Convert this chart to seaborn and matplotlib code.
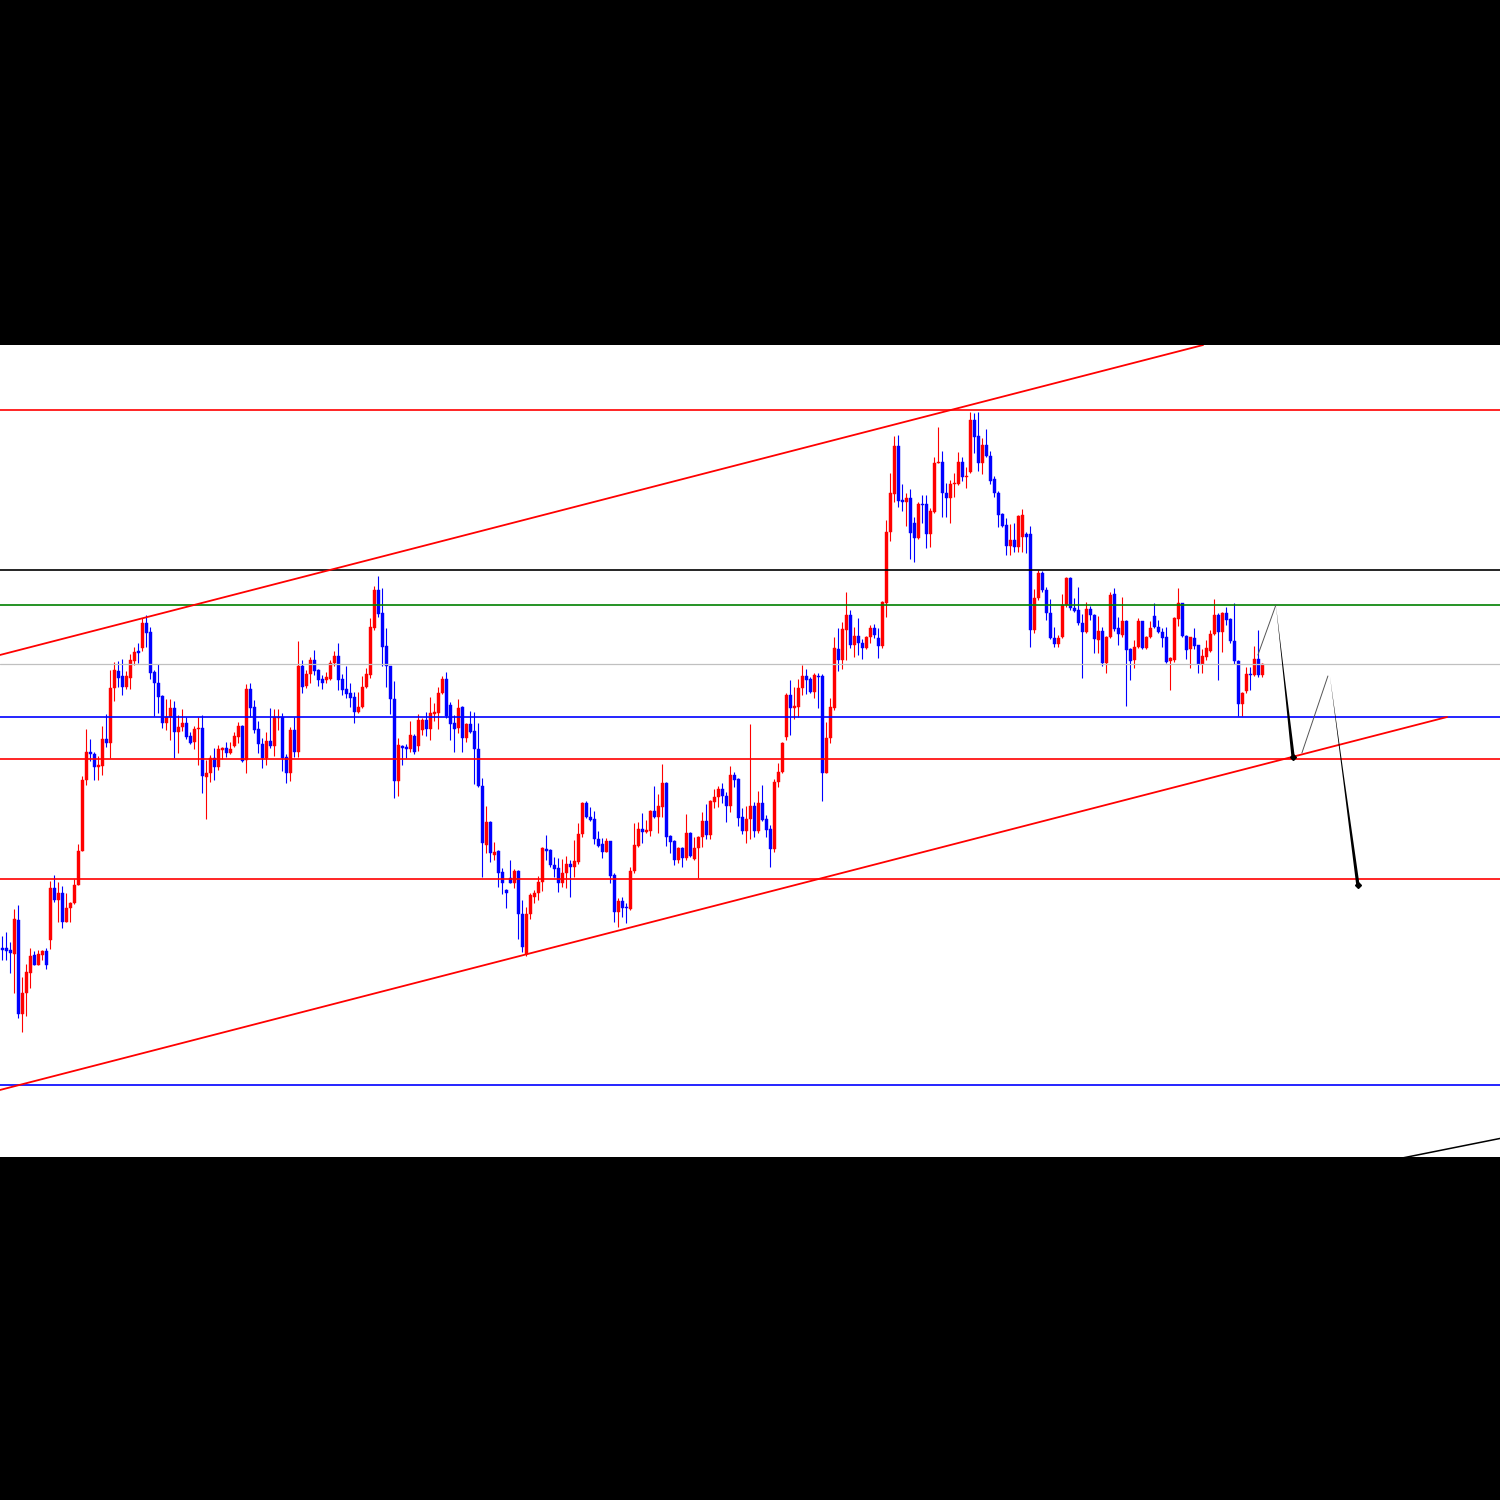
import numpy as np
import matplotlib
matplotlib.use("Agg")
import matplotlib.pyplot as plt
import seaborn as sns

sns.set_theme(style="white")

# OHLC (price points, one candle per bar)
opens = [252, 252, 250, 246, 280, 186, 207, 227, 245, 235,
         245, 249, 260, 312, 300, 307, 278, 292, 297, 315,
         349, 420, 448, 446, 433, 434, 461, 457, 512, 529,
         524, 513, 522, 539, 549, 552, 577, 568, 528, 517,
         504, 477, 483, 492, 468, 473, 477, 464, 458, 471,
         472, 423, 427, 442, 433, 450, 452, 447, 454, 463,
         474, 440, 511, 493, 471, 456, 442, 459, 454, 482,
         483, 443, 427, 470, 448, 534, 514, 526, 540, 530,
         521, 520, 521, 537, 544, 521, 511, 507, 503, 488,
         493, 513, 525, 572, 610, 587, 554, 534, 501, 419,
         454, 453, 451, 464, 454, 470, 480, 471, 486, 487,
         507, 521, 495, 477, 472, 493, 462, 476, 469, 451,
         414, 355, 378, 345, 349, 328, 310, 322, 317, 329,
         286, 246, 286, 303, 307, 318, 351, 350, 335, 332,
         317, 327, 336, 333, 338, 366, 397, 383, 381, 361,
         356, 348, 359, 325, 288, 299, 293, 291, 329, 354,
         371, 368, 369, 389, 383, 393, 417, 364, 359, 340,
         352, 342, 367, 341, 352, 363, 379, 365, 398, 403,
         411, 404, 394, 425, 421, 383, 369, 381, 394, 369,
         397, 381, 371, 351, 418, 428, 463, 505, 492, 493,
         512, 524, 521, 508, 524, 524, 427, 462, 492, 551,
         540, 570, 585, 555, 564, 557, 552, 563, 572, 562,
         554, 597, 668, 706, 754, 700, 698, 702, 677, 662,
         696, 696, 666, 688, 737, 738, 707, 702, 716, 716,
         738, 723, 728, 780, 764, 737, 755, 744, 721, 707,
         686, 675, 654, 660, 653, 663, 666, 666, 570, 602,
         627, 610, 587, 562, 556, 563, 595, 622, 592, 590,
         577, 568, 591, 585, 560, 569, 537, 563, 606, 572,
         565, 579, 551, 540, 553, 579, 552, 563, 584, 573,
         568, 563, 539, 540, 581, 597, 564, 551, 562, 555,
         536, 543, 549, 566, 585, 568, 587, 581, 559, 539,
         496, 509, 526, 525, 541, 525]
highs = [264, 268, 258, 291, 295, 223, 236, 252, 249, 250,
         250, 252, 319, 325, 318, 314, 307, 298, 321, 356,
         424, 471, 461, 448, 444, 474, 486, 530, 538, 539,
         541, 529, 546, 553, 557, 582, 585, 573, 530, 536,
         505, 501, 501, 499, 485, 491, 483, 468, 474, 483,
         485, 440, 445, 452, 455, 453, 458, 458, 468, 478,
         475, 516, 517, 500, 479, 462, 468, 492, 491, 491,
         487, 446, 473, 483, 559, 540, 530, 543, 550, 531,
         525, 528, 540, 549, 557, 526, 534, 517, 508, 508,
         524, 532, 582, 614, 624, 612, 572, 534, 519, 462,
         455, 456, 479, 466, 486, 482, 488, 503, 497, 513,
         524, 528, 498, 485, 501, 494, 477, 489, 488, 477,
         422, 394, 379, 358, 350, 332, 311, 340, 331, 330,
         300, 293, 307, 310, 324, 353, 365, 351, 343, 342,
         341, 344, 340, 360, 377, 398, 399, 393, 389, 369,
         362, 362, 359, 327, 302, 303, 297, 333, 377, 378,
         387, 380, 390, 414, 406, 436, 418, 365, 360, 353,
         353, 386, 368, 363, 364, 388, 396, 400, 411, 414,
         417, 408, 434, 428, 422, 392, 394, 476, 398, 409,
         415, 385, 375, 421, 437, 458, 507, 520, 513, 521,
         535, 531, 523, 527, 527, 526, 478, 502, 563, 572,
         578, 608, 590, 573, 582, 561, 564, 575, 576, 572,
         599, 680, 727, 764, 765, 716, 707, 711, 683, 698,
         705, 705, 692, 743, 773, 749, 717, 720, 727, 748,
         743, 733, 788, 787, 788, 762, 771, 749, 724, 709,
         687, 682, 676, 677, 685, 691, 668, 674, 611, 630,
         629, 613, 601, 573, 565, 606, 623, 623, 602, 613,
         586, 598, 594, 586, 584, 573, 564, 608, 612, 583,
         603, 580, 552, 560, 582, 579, 564, 579, 597, 580,
         572, 573, 543, 583, 612, 597, 565, 563, 572, 555,
         551, 560, 570, 601, 587, 588, 593, 582, 597, 540,
         508, 533, 533, 554, 570, 537]
lows = [240, 240, 227, 207, 182, 168, 184, 212, 235, 235,
        240, 231, 251, 298, 278, 272, 278, 278, 296, 315,
        349, 415, 439, 420, 420, 425, 453, 442, 499, 513,
        505, 511, 511, 535, 537, 549, 553, 521, 484, 487,
        472, 470, 460, 442, 447, 469, 461, 456, 451, 435,
        407, 381, 418, 420, 430, 441, 443, 446, 453, 457,
        438, 427, 483, 467, 447, 432, 435, 452, 444, 470,
        429, 417, 419, 443, 443, 507, 512, 517, 525, 514,
        511, 517, 520, 534, 510, 505, 502, 493, 477, 487,
        492, 512, 522, 570, 583, 534, 513, 486, 402, 404,
        435, 442, 448, 446, 449, 465, 464, 460, 479, 471,
        506, 482, 460, 448, 467, 448, 458, 467, 416, 413,
        323, 347, 338, 340, 313, 306, 292, 317, 312, 261,
        248, 244, 281, 297, 300, 309, 340, 333, 323, 308,
        313, 312, 303, 323, 336, 363, 382, 379, 356, 353,
        342, 348, 317, 278, 273, 283, 277, 290, 327, 353,
        357, 367, 364, 382, 367, 383, 354, 347, 335, 337,
        333, 340, 343, 340, 322, 353, 361, 361, 392, 393,
        397, 378, 388, 413, 374, 366, 357, 361, 363, 367,
        379, 363, 333, 348, 413, 427, 460, 465, 481, 483,
        505, 506, 507, 502, 492, 399, 427, 457, 490, 529,
        531, 540, 552, 543, 545, 541, 551, 557, 562, 542,
        552, 583, 659, 698, 693, 689, 674, 641, 638, 661,
        677, 652, 653, 687, 737, 683, 683, 677, 703, 715,
        719, 712, 727, 747, 729, 726, 743, 716, 703, 673,
        673, 645, 645, 648, 648, 648, 647, 553, 567, 600,
        608, 580, 561, 553, 553, 562, 593, 590, 588, 575,
        522, 567, 580, 547, 547, 534, 527, 562, 569, 555,
        563, 494, 520, 532, 552, 551, 551, 562, 572, 567,
        553, 537, 510, 538, 574, 563, 541, 532, 551, 527,
        527, 540, 548, 565, 520, 548, 575, 557, 536, 484,
        484, 507, 510, 524, 523, 523]
closes = [250, 249, 247, 281, 186, 207, 228, 244, 235, 246,
          249, 235, 312, 300, 307, 278, 292, 297, 315, 349,
          420, 448, 446, 433, 435, 461, 457, 512, 530, 522,
          513, 524, 540, 548, 547, 577, 567, 527, 517, 503,
          477, 483, 492, 468, 473, 477, 463, 457, 471, 472,
          424, 427, 442, 433, 451, 452, 447, 451, 464, 474,
          439, 511, 492, 470, 456, 442, 459, 454, 483, 483,
          442, 427, 470, 448, 534, 513, 526, 540, 529, 520,
          517, 523, 537, 544, 520, 510, 506, 502, 488, 493,
          513, 526, 573, 610, 586, 553, 534, 501, 419, 455,
          452, 451, 465, 448, 480, 480, 471, 487, 488, 507,
          521, 484, 476, 471, 492, 462, 476, 468, 451, 414,
          357, 378, 347, 348, 327, 317, 307, 317, 329, 286,
          253, 286, 305, 307, 318, 352, 349, 335, 331, 317,
          327, 336, 333, 339, 366, 397, 383, 380, 361, 354,
          348, 359, 324, 288, 299, 292, 292, 329, 355, 371,
          368, 370, 389, 383, 394, 417, 363, 358, 340, 352,
          342, 367, 344, 352, 363, 379, 365, 399, 403, 411,
          404, 394, 425, 420, 382, 369, 381, 394, 369, 397,
          380, 370, 351, 418, 428, 457, 505, 492, 494, 512,
          524, 520, 508, 525, 523, 427, 462, 493, 552, 540,
          571, 585, 555, 564, 557, 552, 563, 572, 565, 554,
          598, 668, 707, 754, 699, 698, 702, 667, 662, 696,
          695, 666, 689, 737, 738, 707, 702, 716, 717, 738,
          723, 724, 780, 763, 737, 755, 744, 719, 707, 685,
          674, 654, 660, 653, 684, 685, 663, 570, 602, 627,
          610, 587, 562, 556, 562, 595, 622, 592, 589, 577,
          568, 591, 585, 561, 569, 537, 563, 605, 571, 566,
          579, 550, 539, 553, 579, 552, 563, 572, 573, 568,
          562, 538, 542, 582, 597, 564, 550, 563, 554, 536,
          544, 552, 566, 585, 568, 587, 580, 559, 539, 496,
          507, 526, 525, 541, 525, 536]

# horizontal levels
level_prices = [790, 630, 595, 536, 483, 441, 321, 115]
level_colors = ["#FF0000", "#000000", "#008000", "#C0C0C0",
                "#0000FF", "#FF0000", "#FF0000", "#0000FF"]

# channel trendlines (bar index, price)
upper_x, upper_y = [-0.6, 300.2], [545, 855]
lower_x, lower_y = [-0.6, 361.2], [110, 483]
base_x, base_y = [345, 380], [38, 66]

# projected path: thin leg up, tapered arrow down
leg1_x, leg1_y = [313.9, 318.4], [545, 595]
drop1_x, drop1_y = [318.4, 322.7], [595, 443]
leg2_x, leg2_y = [324.9, 331.4], [447, 524]
drop2_x, drop2_y = [331.9, 338.9], [524, 315]

o = np.array(opens, float)
h = np.array(highs, float)
l = np.array(lows, float)
c = np.array(closes, float)
idx = np.arange(len(o))
col = np.where(c >= o, "#FF0000", "#0000FF")

fig = plt.figure(figsize=(15, 15), dpi=100)
fig.patch.set_facecolor("black")
ax = fig.add_axes([0, 343 / 1500, 1, 812 / 1500])
ax.set_facecolor("white")

# candles
ax.vlines(idx, l, h, colors=col, linewidth=0.8, zorder=2)
body = np.maximum(np.abs(c - o), 0.8)
ax.bar(idx, body, bottom=np.minimum(o, c), width=0.72, color=col,
       edgecolor=col, linewidth=0.3, zorder=3)

# levels
for p, lc in zip(level_prices, level_colors):
    ax.axhline(p, color=lc, linewidth=1.2 if lc != "#C0C0C0" else 0.9, zorder=4)

sns.lineplot(x=upper_x, y=upper_y, color="#FF0000", linewidth=1.3, ax=ax, zorder=4)
sns.lineplot(x=lower_x, y=lower_y, color="#FF0000", linewidth=1.3, ax=ax, zorder=4)
sns.lineplot(x=base_x, y=base_y, color="black", linewidth=1.1, ax=ax, zorder=4)

# projection
for xs, ys in [(leg1_x, leg1_y), (leg2_x, leg2_y)]:
    ax.plot(xs, ys, color="#555555", linewidth=0.7, zorder=5)
for xs, ys in [(drop1_x, drop1_y), (drop2_x, drop2_y)]:
    ax.annotate("", xy=(xs[0], ys[0]), xytext=(xs[1], ys[1]),
                arrowprops=dict(arrowstyle="wedge,tail_width=0.2,shrink_factor=0.4",
                                color="black", lw=0, shrinkA=0, shrinkB=0),
                zorder=5)
    ax.plot(xs[1], ys[1], marker="D", markersize=3, color="black", zorder=6)

ax.set_xlim(-0.575, 374.425)
ax.set_ylim(43, 855)
ax.set_xticks([])
ax.set_yticks([])
for s in ax.spines.values():
    s.set_visible(False)

fig.savefig("out.png", dpi=100, facecolor="black")
